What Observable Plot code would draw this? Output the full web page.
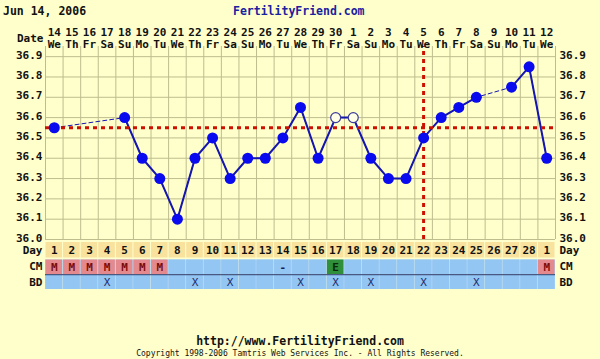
<!DOCTYPE html>
<html>
<head>
<meta charset="utf-8">
<script src="https://cdn.jsdelivr.net/npm/d3@7"></script>
<script src="https://cdn.jsdelivr.net/npm/@observablehq/plot@0.6"></script>
<style>
  html, body { margin: 0; padding: 0; background: #FFFFCC; }
  #wrap { position: relative; width: 600px; height: 359px; overflow: hidden; background: #FFFFCC;
          font-family: "DejaVu Sans Mono", monospace; font-weight: bold; }
  .abs { position: absolute; white-space: nowrap; }
  #chart, #table { position: absolute; left: 0; }
  #chart { top: 0; }
  #table { top: 240px; }
</style>
</head>
<body>
<div id="wrap">
  <div class="abs" style="left:3px; top:4px; font-size:11.5px; color:#111;">Jun 14, 2006</div>
  <div class="abs" style="left:233px; top:4px; font-size:11.5px; color:#1a22a0;">FertilityFriend.com</div>
  <div id="chart"></div>
  <div id="table"></div>
  <div class="abs" style="left:0; width:600px; text-align:center; top:334px; font-size:11.5px; color:#111;">http://www.FertilityFriend.com</div>
  <div class="abs" style="left:0; width:600px; text-align:center; top:349px; font-size:8px; font-weight:normal; color:#111;">Copyright 1998-2006 Tamtris Web Services Inc. - All Rights Reserved.</div>
</div>
<script>
// ---- data ----
const dates = ["14","15","16","17","18","19","20","21","22","23","24","25","26","27","28","29","30","1","2","3","4","5","6","7","8","9","10","11","12"];
const weekdays = ["We","Th","Fr","Sa","Su","Mo","Tu","We","Th","Fr","Sa","Su","Mo","Tu","We","Th","Fr","Sa","Su","Mo","Tu","We","Th","Fr","Sa","Su","Mo","Tu","We"];
const cycleDays = ["1","2","3","4","5","6","7","8","9","10","11","12","13","14","15","16","17","18","19","20","21","22","23","24","25","26","27","28","1"];
const temps = [36.55, null, null, null, 36.6, 36.4, 36.3, 36.1, 36.4, 36.5, 36.3, 36.4, 36.4, 36.5, 36.65, 36.4, 36.6, 36.6, 36.4, 36.3, 36.3, 36.5, 36.6, 36.65, 36.7, null, 36.75, 36.85, 36.4];
const hollowDays = [17, 18];
const cm = ["M","M","M","M","M","M","M","","","","","","","-","","","E","","","","","","","","","","","","M"];
const bd = ["","","","X","","","","","X","","X","","","","X","","X","","X","","","X","","","X","","","",""];
const yTicks = [36.0, 36.1, 36.2, 36.3, 36.4, 36.5, 36.6, 36.7, 36.8, 36.9];
const coverline = 36.55;
const ovulationDay = 22;
const rowNames = ["Day", "CM", "BD"];

// ---- build tables ----
const days = dates.map((d, i) => ({
  i: i + 1, date: d, wd: weekdays[i], cd: cycleDays[i],
  temp: temps[i], hollow: hollowDays.includes(i + 1), cm: cm[i], bd: bd[i]
}));
const defined = days.filter(d => d.temp != null);
const gridX = d3.range(0.5, days.length + 1, 1);

const FONT = "DejaVu Sans Mono";
const GRID = "#BDBD8E";
const RED = "#CC1100";
const BLUE = "#1515B0";

const chart = Plot.plot({
  width: 600, height: 240,
  marginLeft: 45, marginRight: 45, marginTop: 46, marginBottom: 1,
  style: { fontFamily: FONT, fontSize: "11px", fontWeight: "bold", background: "transparent", color: "#111", overflow: "visible" },
  x: { type: "linear", domain: [0.5, days.length + 0.5], axis: null },
  y: { domain: [36.0, 36.95], axis: null },
  marks: [
    Plot.ruleY(yTicks, { x1: 0.5, x2: days.length + 0.5, stroke: GRID, strokeWidth: 1 }),
    Plot.ruleX(gridX, { y1: 36.0, y2: 36.95, stroke: GRID, strokeWidth: 1 }),
    Plot.line(defined, { x: "i", y: "temp", stroke: BLUE, strokeWidth: 1, strokeDasharray: "4,3" }),
    Plot.line(days, { x: "i", y: "temp", stroke: BLUE, strokeWidth: 2 }),
    Plot.ruleY([coverline], { x1: 0.5, x2: days.length + 0.5, stroke: RED, strokeWidth: 3, strokeDasharray: "4,4" }),
    Plot.ruleX([ovulationDay], { y1: 36.0, y2: 36.95, stroke: RED, strokeWidth: 3, strokeDasharray: "4,4" }),
    Plot.dot(defined.filter(d => !d.hollow), { x: "i", y: "temp", r: 5.5, fill: "#0A0AEE", stroke: "none" }),
    Plot.dot(defined.filter(d => d.hollow), { x: "i", y: "temp", r: 5, fill: "#FFFFE8", stroke: "#3A3A9A", strokeWidth: 1.2 }),
    Plot.text(days, { x: "i", text: "date", frameAnchor: "top", lineAnchor: "middle", dy: -14, fill: "#111" }),
    Plot.text(days, { x: "i", text: "wd", frameAnchor: "top", lineAnchor: "middle", dy: -2, fill: "#111" }),
    Plot.text(["Date"], { frameAnchor: "top-left", lineAnchor: "middle", textAnchor: "end", dx: -2, dy: -8, fill: "#111" }),
    Plot.axisY({ anchor: "left", ticks: yTicks, tickFormat: d => d.toFixed(1), tickSize: 0, tickPadding: 3, dy: -1.5, label: null }),
    Plot.axisY({ anchor: "right", ticks: yTicks, tickFormat: d => d.toFixed(1), tickSize: 0, tickPadding: 4, dy: -1.5, label: null })
  ]
});
document.getElementById("chart").appendChild(chart);

const cmFill = d => d.cm === "M" ? "#E48A8E" : d.cm === "E" ? "#2F8F3A" : "#93C6F2";
const cmText = d => d.cm === "M" ? "#7A0A0A" : d.cm === "E" ? "#0A2A0A" : "#1A1A50";

const table = Plot.plot({
  width: 600, height: 52,
  marginLeft: 45, marginRight: 45, marginTop: 1, marginBottom: 1,
  style: { fontFamily: FONT, fontSize: "11px", fontWeight: "bold", background: "transparent", color: "#111", overflow: "visible" },
  x: { type: "linear", domain: [0.5, days.length + 0.5], axis: null },
  y: { type: "band", domain: rowNames, padding: 0, axis: null },
  marks: [
    Plot.barX(days, { x1: d => d.i - 0.5, x2: d => d.i + 0.5, y: () => "Day", fill: "#F8E29E", insetLeft: 0.5, insetRight: 0.5, insetTop: 0, insetBottom: 0.5 }),
    Plot.barX(days, { x1: d => d.i - 0.5, x2: d => d.i + 0.5, y: () => "CM", fill: "#A9D2F6", insetTop: 1.5, insetBottom: 0 }),
    Plot.barX(days, { x1: d => d.i - 0.5, x2: d => d.i + 0.5, y: () => "CM", fill: cmFill, insetLeft: 0.5, insetRight: 0.5, insetTop: 1.5, insetBottom: 0 }),
    Plot.barX(days, { x1: d => d.i - 0.5, x2: d => d.i + 0.5, y: () => "BD", fill: "#A9D2F6", insetTop: 1, insetBottom: 1 }),
    Plot.barX(days, { x1: d => d.i - 0.5, x2: d => d.i + 0.5, y: () => "BD", fill: "#93C6F2", insetLeft: 0.5, insetRight: 0.5, insetTop: 1, insetBottom: 1 }),
    Plot.ruleY(["BD"], { x1: 0.5, x2: days.length + 0.5, dy: -7.8, stroke: "#22336E", strokeWidth: 1 }),
    Plot.text(days, { x: "i", y: () => "Day", text: "cd", fill: "#111" }),
    Plot.text(days.filter(d => d.cm), { x: "i", y: () => "CM", dy: 1, text: "cm", fill: cmText }),
    Plot.text(days.filter(d => d.bd), { x: "i", y: () => "BD", text: "bd", fill: "#1E2C70", fontWeight: "normal" }),
    Plot.axisY({ anchor: "left", tickSize: 0, tickPadding: 3, label: null }),
    Plot.axisY({ anchor: "right", tickSize: 0, tickPadding: 4, label: null })
  ]
});
document.getElementById("table").appendChild(table);
</script>
</body>
</html>
